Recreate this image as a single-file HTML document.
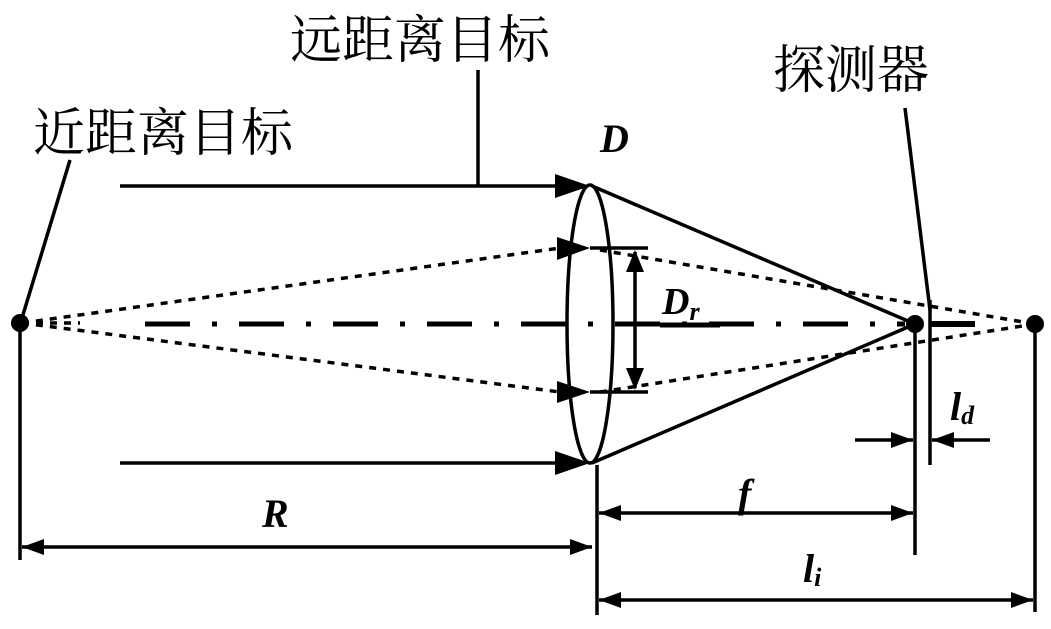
<!DOCTYPE html>
<html><head><meta charset="utf-8"><style>
html,body{margin:0;padding:0;background:#fff;}
svg{display:block;}
.cn{font-family:"Liberation Serif","Noto Serif CJK SC",serif;font-size:52px;fill:#000;}
.lb{font-family:"Liberation Serif",serif;font-style:italic;font-weight:bold;fill:#000;}
</style></head><body>
<svg width="1051" height="629" viewBox="0 0 1051 629" xmlns="http://www.w3.org/2000/svg">
<text class="cn" x="290" y="58">远距离目标</text>
<text class="cn" x="33" y="151">近距离目标</text>
<text class="cn" x="773" y="88">探测器</text>
<g stroke="#000" fill="none" stroke-width="3.5">
<line x1="478" y1="70" x2="478" y2="186"/>
<line x1="70" y1="160" x2="22" y2="318"/>
<line x1="905" y1="108" x2="930" y2="310"/>
<line x1="120" y1="186" x2="560" y2="186"/>
<line x1="120" y1="463" x2="560" y2="463"/>
<path d="M555,174 L590,186 L555,198z" fill="#000" stroke="none"/>
<path d="M555,451 L590,463 L555,475z" fill="#000" stroke="none"/>
<ellipse cx="590" cy="324" rx="23" ry="139"/>
<line x1="592" y1="186" x2="915" y2="324"/>
<line x1="592" y1="463" x2="915" y2="324"/>
<g stroke-dasharray="7,7" stroke-width="3.5">
<line x1="22" y1="323" x2="560" y2="248"/>
<line x1="22" y1="323" x2="560" y2="392"/>
<line x1="600" y1="250" x2="1035" y2="324"/>
<line x1="600" y1="392" x2="1035" y2="324"/>
<line x1="22" y1="323" x2="80" y2="323"/>
</g>
<path d="M557,237 L590,248 L557,260z" fill="#000" stroke="none"/>
<path d="M557,381 L590,392 L557,403z" fill="#000" stroke="none"/>
<line x1="590" y1="248" x2="648" y2="248"/>
<line x1="590" y1="392" x2="648" y2="392"/>
<line x1="635" y1="252" x2="635" y2="388"/>
<path d="M626,272 L635,250 L644,272z" fill="#000" stroke="none"/>
<path d="M626,368 L635,390 L644,368z" fill="#000" stroke="none"/>
<line x1="660" y1="325" x2="720" y2="325" stroke-width="5"/>
<line x1="145" y1="324" x2="905" y2="324" stroke-width="5" stroke-dasharray="45,22,5,22"/>
<line x1="930" y1="300" x2="930" y2="465"/>
<line x1="930" y1="324" x2="975" y2="324" stroke-width="6"/>
<line x1="915" y1="324" x2="915" y2="555"/>
<line x1="1035" y1="324" x2="1035" y2="612"/>
<line x1="20" y1="323" x2="20" y2="560"/>
<line x1="597" y1="465" x2="597" y2="615"/>
<line x1="22" y1="547" x2="592" y2="547"/>
<path d="M44,539 L22,547 L44,555z" fill="#000" stroke="none"/>
<path d="M570,539 L592,547 L570,555z" fill="#000" stroke="none"/>
<line x1="599" y1="513" x2="913" y2="513"/>
<path d="M621,505 L599,513 L621,521z" fill="#000" stroke="none"/>
<path d="M891,505 L913,513 L891,521z" fill="#000" stroke="none"/>
<line x1="599" y1="600" x2="1033" y2="600"/>
<path d="M621,592 L599,600 L621,608z" fill="#000" stroke="none"/>
<path d="M1011,592 L1033,600 L1011,608z" fill="#000" stroke="none"/>
<line x1="855" y1="440" x2="913" y2="440"/>
<line x1="932" y1="440" x2="990" y2="440"/>
<path d="M891,432 L913,440 L891,448z" fill="#000" stroke="none"/>
<path d="M954,432 L932,440 L954,448z" fill="#000" stroke="none"/>
</g>
<circle cx="20" cy="323" r="9" fill="#000"/>
<circle cx="915" cy="324" r="9" fill="#000"/>
<circle cx="1035" cy="324" r="9" fill="#000"/>
<text class="lb" x="600" y="152" font-size="40">D</text>
<text class="lb" x="662" y="314" font-size="38">D<tspan font-size="26" dy="6">r</tspan></text>
<text class="lb" x="262" y="527" font-size="40">R</text>
<text class="lb" x="738" y="507" font-size="40">f</text>
<text class="lb" x="803" y="582" font-size="40">l<tspan font-size="26" dy="4">i</tspan></text>
<text class="lb" x="950" y="420" font-size="40">l<tspan font-size="26" dy="4">d</tspan></text>
</svg>
</body></html>
